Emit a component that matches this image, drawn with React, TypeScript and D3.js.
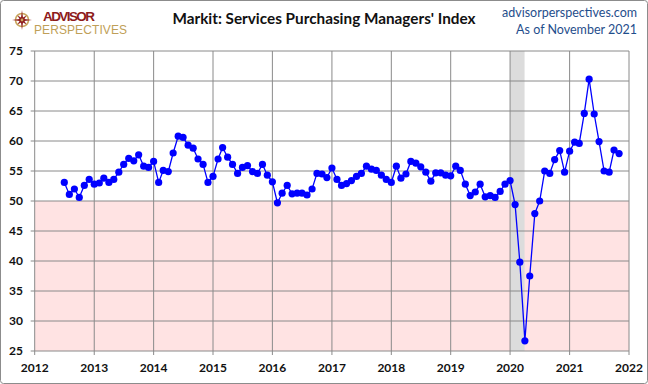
import React from "react";
import * as d3 from "d3";

// Markit US Services PMI, monthly, Jul 2012 - Nov 2021
const startYear = 2012;
const startMonth = 6; // July (0-based)
const pmiValues = [
  // 2012 Jul-Dec
  53.1, 51.1, 52.0, 50.6, 52.6, 53.6,
  // 2013
  52.8, 53.0, 53.8, 53.1, 53.6, 54.8, 56.1, 57.1, 56.7, 57.7, 55.8, 55.6,
  // 2014
  56.6, 53.1, 55.1, 54.9, 58.0, 60.8, 60.6, 59.3, 58.8, 57.0, 56.1, 53.1,
  // 2015
  54.1, 57.0, 58.9, 57.3, 56.1, 54.6, 55.6, 55.9, 54.9, 54.6, 56.1, 54.3,
  // 2016
  53.2, 49.7, 51.3, 52.6, 51.2, 51.3, 51.3, 51.0, 52.0, 54.6, 54.5, 53.9,
  // 2017
  55.5, 53.6, 52.6, 52.9, 53.4, 54.1, 54.6, 55.8, 55.3, 55.1, 54.3, 53.6,
  // 2018
  53.1, 55.8, 53.8, 54.5, 56.6, 56.3, 55.7, 54.8, 53.3, 54.7, 54.7, 54.3,
  // 2019
  54.2, 55.8, 55.1, 52.8, 50.9, 51.5, 52.8, 50.7, 50.9, 50.6, 51.6, 52.8,
  // 2020
  53.4, 49.4, 39.8, 26.7, 37.5, 47.9, 50.0, 55.0, 54.6, 56.9, 58.4, 54.8,
  // 2021 Jan-Nov
  58.3, 59.8, 59.6, 64.6, 70.3, 64.5, 59.9, 55.0, 54.8, 58.5, 57.9,
];

const yTicks = [25, 30, 35, 40, 45, 50, 55, 60, 65, 70, 75];
const yearTicks = [2012, 2013, 2014, 2015, 2016, 2017, 2018, 2019, 2020, 2021, 2022];
const recession = [new Date(Date.UTC(2020, 0, 1)), new Date(Date.UTC(2020, 2, 30))];
const contractionBand = [25, 50];

const W = 648;
const H = 384;
const plot = { left: 34.7, right: 629, top: 51, bottom: 351 };

const series = pmiValues.map((v, i) => ({
  date: new Date(Date.UTC(startYear, startMonth + i, 1)),
  value: v,
}));

function Compass() {
  // small logo mark: 8-point compass star
  const cx = 22, cy = 20;
  const pts: string[] = [];
  for (let i = 0; i < 16; i++) {
    const a = (i * Math.PI) / 8 - Math.PI / 2;
    const r = i % 4 === 0 ? 10 : i % 2 === 0 ? 6.5 : 2.6;
    pts.push(`${cx + r * Math.cos(a)},${cy + r * Math.sin(a)}`);
  }
  return (
    <g>
      <circle cx={cx} cy={cy} r={6.5} fill="none" stroke="#c9a75e" strokeWidth={1.6} />
      <polygon points={pts.join(" ")} fill="#8e1b1b" />
      <circle cx={cx} cy={cy} r={1.4} fill="#c9a75e" />
    </g>
  );
}

export default function App() {
  const x = d3
    .scaleUtc()
    .domain([new Date(Date.UTC(2012, 0, 1)), new Date(Date.UTC(2022, 0, 1))])
    .range([plot.left, plot.right]);
  const y = d3.scaleLinear().domain([25, 75]).range([plot.bottom, plot.top]);

  const line = d3
    .line<{ date: Date; value: number }>()
    .x((d) => x(d.date))
    .y((d) => y(d.value));

  const axisFont = "Lato, 'Liberation Sans', sans-serif";

  return (
    <div style={{ position: "absolute", left: 0, top: 0 }}>
      <svg width={W} height={H} style={{ display: "block", background: "white" }}>
        <rect x={0.5} y={0.5} width={W - 1} height={H - 1} rx={3} fill="white" stroke="#8c8c8c" />

        {/* contraction zone */}
        <rect
          x={plot.left}
          y={y(contractionBand[1])}
          width={plot.right - plot.left}
          height={y(contractionBand[0]) - y(contractionBand[1])}
          fill="#ffe3e3"
        />
        {/* recession shading */}
        <rect
          x={x(recession[0])}
          y={plot.top}
          width={x(recession[1]) - x(recession[0])}
          height={plot.bottom - plot.top}
          fill="#dcdcdc"
        />

        {/* gridlines */}
        {yTicks.map((t) => (
          <line key={"h" + t} x1={plot.left - 4} x2={plot.right} y1={y(t)} y2={y(t)} stroke="#8a8a8a" strokeWidth={1} />
        ))}
        {yearTicks.map((yr) => {
          const xx = x(new Date(Date.UTC(yr, 0, 1)));
          return (
            <line key={"v" + yr} x1={xx} x2={xx} y1={plot.top} y2={plot.bottom + 4} stroke="#8a8a8a" strokeWidth={1} />
          );
        })}

        {/* y labels */}
        {yTicks.map((t) => (
          <text
            key={"yl" + t}
            x={23}
            y={y(t)}
            dy="0.35em"
            textAnchor="end"
            fontFamily={axisFont}
            fontWeight="bold"
            fontSize={12}
            fill="#111"
          >
            {t}
          </text>
        ))}
        {/* x labels */}
        {yearTicks.map((yr) => (
          <text
            key={"xl" + yr}
            x={x(new Date(Date.UTC(yr, 0, 1)))}
            y={368}
            dy="0.35em"
            textAnchor="middle"
            fontFamily={axisFont}
            fontWeight="bold"
            fontSize={12}
            fill="#111"
          >
            {yr}
          </text>
        ))}

        {/* series */}
        <path d={line(series) || ""} fill="none" stroke="#0000ff" strokeWidth={1.3} />
        {series.map((d, i) => (
          <circle key={i} cx={x(d.date)} cy={y(d.value)} r={3.6} fill="#0000ff" />
        ))}

        {/* header */}
        <Compass />
        <text x={43} y={21} fontFamily="'Liberation Sans Narrow', 'Liberation Sans', sans-serif" fontWeight="bold" fontSize={13.5} fill="#8e1b1b" textLength={52}>
          ADVISOR
        </text>
        <text x={34} y={34} fontFamily="'Liberation Sans Narrow', 'Liberation Sans', sans-serif" fontSize={12} fill="#bf9f58" textLength={93}>
          PERSPECTIVES
        </text>

        <text
          x={324}
          y={24}
          textAnchor="middle"
          fontFamily="Lato, 'Liberation Sans', sans-serif"
          fontWeight="bold"
          fontSize={15.3}
          fill="#111"
        >
          Markit: Services Purchasing Managers' Index
        </text>

        <text x={637} y={17} textAnchor="end" fontFamily="Lato, sans-serif" fontSize={12.5} fill="#1f4e8c">
          advisorperspectives.com
        </text>
        <text x={637} y={34} textAnchor="end" fontFamily="Lato, sans-serif" fontSize={12.5} fill="#1f4e8c">
          As of November 2021
        </text>
      </svg>
    </div>
  );
}
